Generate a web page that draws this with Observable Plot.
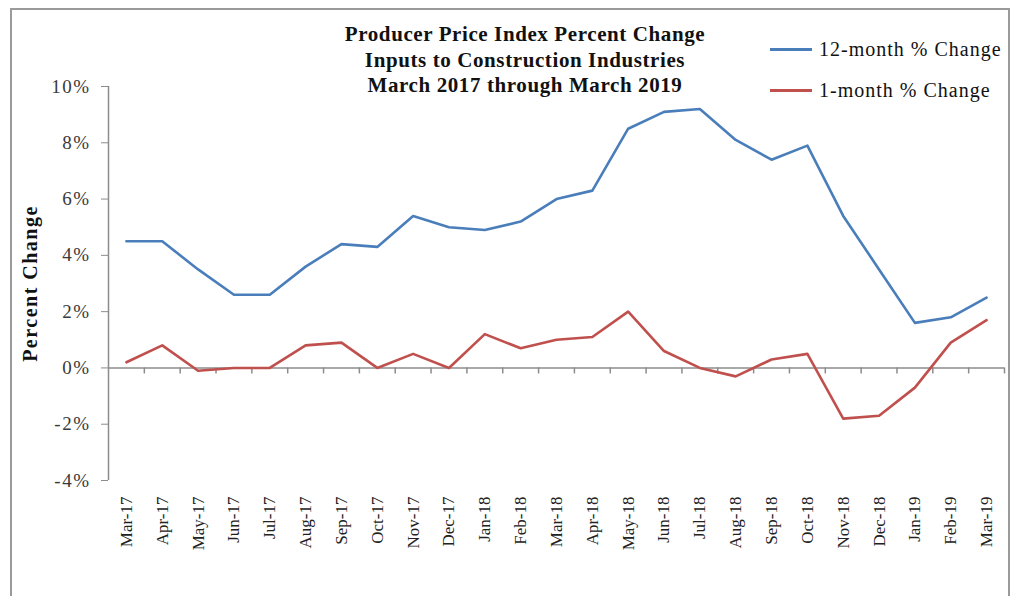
<!DOCTYPE html>
<html><head><meta charset="utf-8">
<script src="https://cdn.jsdelivr.net/npm/d3@7"></script>
<script src="https://cdn.jsdelivr.net/npm/@observablehq/plot@0.6"></script>
<style>
body{margin:0;background:#fff;}
#wrap{position:relative;width:1016px;height:596px;overflow:hidden;font-family:"Liberation Serif","DejaVu Serif",serif;color:#111;}
#frame{position:absolute;left:10px;top:8px;width:1000px;height:620px;border:2px solid #9a9a9a;box-sizing:border-box;pointer-events:none;}
#chart{position:absolute;left:0;top:0;}
#title{position:absolute;left:275px;width:500px;top:22px;text-align:center;font-weight:bold;font-size:21px;letter-spacing:0.6px;line-height:25.5px;}
.leg{position:absolute;left:770px;font-size:20px;letter-spacing:1px;display:flex;align-items:center;}
.leg .sw{width:42px;height:3px;margin-right:7px;}
#chart g[aria-label="y-axis tick label"] text{letter-spacing:1.5px;}
#chart g[aria-label="text"] text{letter-spacing:1.5px;}
</style></head>
<body>
<div id="wrap">
  <div id="chart"></div>
  <div id="title"></div>
  <div id="legend"></div>
  <div id="frame"></div>
</div>
<script>
const months = ["Mar-17","Apr-17","May-17","Jun-17","Jul-17","Aug-17","Sep-17","Oct-17","Nov-17","Dec-17","Jan-18","Feb-18","Mar-18","Apr-18","May-18","Jun-18","Jul-18","Aug-18","Sep-18","Oct-18","Nov-18","Dec-18","Jan-19","Feb-19","Mar-19"];
const change12 = [4.5,4.5,3.5,2.6,2.6,3.6,4.4,4.3,5.4,5.0,4.9,5.2,6.0,6.3,8.5,9.1,9.2,8.1,7.4,7.9,5.4,3.5,1.6,1.8,2.5];
const change1 = [0.2,0.8,-0.1,0.0,0.0,0.8,0.9,0.0,0.5,0.0,1.2,0.7,1.0,1.1,2.0,0.6,0.0,-0.3,0.3,0.5,-1.8,-1.7,-0.7,0.9,1.7];
const seriesNames = ["12-month % Change","1-month % Change"];
const seriesColors = ["#4a7ebb","#c0504d"];
const yTicks = [-4,-2,0,2,4,6,8,10];
const titleLines = ["Producer Price Index Percent Change","Inputs to Construction Industries","March 2017 through March 2019"];
const yLabel = "Percent Change";

const data = months.flatMap((m,i)=>[
  {month:m,value:change12[i],series:seriesNames[0]},
  {month:m,value:change1[i],series:seriesNames[1]}
]);

const W=1016,H=596,mL=108,mR=12,mT=86,mB=116;
const step=(W-mL-mR)/months.length;

const chart = Plot.plot({
  width:W,height:H,marginLeft:mL,marginRight:mR,marginTop:mT,marginBottom:mB,
  style:{fontFamily:"Liberation Serif, serif",background:"transparent",color:"#333"},
  x:{type:"point",domain:months,padding:0.5,round:false},
  y:{domain:[-4,10]},
  color:{domain:seriesNames,range:seriesColors},
  marks:[
    Plot.ruleX([months[0]],{dx:-step/2,y1:-4,y2:10,stroke:"#8c8c8c",strokeWidth:1.5}),
    Plot.ruleY([0],{stroke:"#8c8c8c",strokeWidth:1.5}),
    Plot.ruleX(months,{x:d=>d,dx:step/2,y1:0,y2:0,insetBottom:-6,stroke:"#8c8c8c",strokeWidth:1.5}),
    Plot.axisY({ticks:yTicks,tickFormat:d=>d+"%",tickSize:7,tickPadding:11,fontSize:19,label:null,stroke:"#8c8c8c",fill:"#3a3a3a"}),
    Plot.axisX({tickSize:0,tickRotate:-90,tickPadding:16,fontSize:17,label:null,fill:"#222"}),
    Plot.text([yLabel],{frameAnchor:"left",textAnchor:"middle",dx:-78,rotate:-90,fontWeight:"bold",fontSize:20,fill:"#111"}),
    Plot.line(data,{x:"month",y:"value",stroke:"series",strokeWidth:2.6})
  ]
});
document.getElementById("chart").appendChild(chart);

const t=document.getElementById("title");
titleLines.forEach(s=>{const d=document.createElement("div");d.textContent=s;t.appendChild(d);});
const lg=document.getElementById("legend");
[49,90].forEach((y,i)=>{
  const d=document.createElement("div");d.className="leg";d.style.top=(y-12)+"px";d.style.height="24px";
  const sw=document.createElement("div");sw.className="sw";sw.style.background=seriesColors[i];
  const tx=document.createElement("span");tx.textContent=seriesNames[i];
  d.appendChild(sw);d.appendChild(tx);lg.appendChild(d);
});
</script>
</body></html>
